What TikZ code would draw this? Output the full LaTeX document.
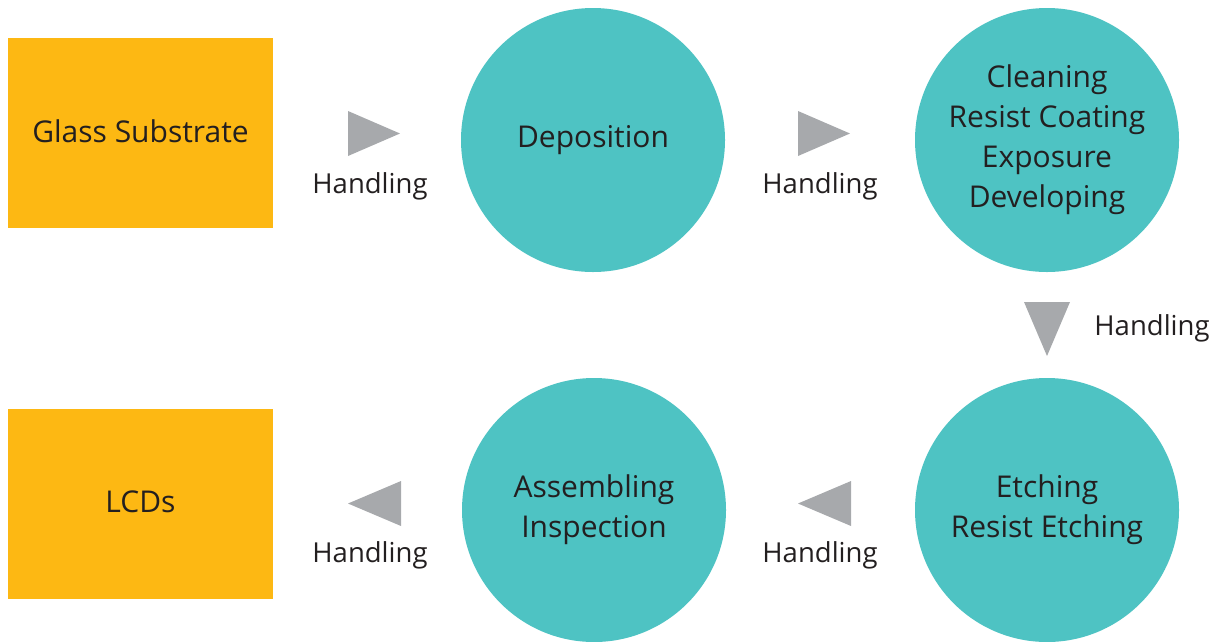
\documentclass[tikz,border=0pt]{standalone}
\usepackage{fontspec}
\setmainfont{Open Sans}
\definecolor{orangebox}{HTML}{FDB813}
\definecolor{tealc}{HTML}{4EC3C3}
\definecolor{grayarrow}{HTML}{A7A9AC}
\definecolor{txt}{HTML}{231F20}
\begin{document}
\begin{tikzpicture}[x=1pt,y=-1pt,
  box/.style={fill=orangebox,draw=none,minimum width=265pt,minimum height=190pt,inner sep=0pt,text=txt},
  boxtext/.style={text=txt,inner sep=0pt,font=\fontsize{30}{40}\selectfont},
  stage/.style={circle,fill=tealc,draw=none,minimum size=264pt,inner sep=0pt,align=center,text=txt,font=\fontsize{30}{40}\selectfont},
  lbl/.style={text=txt,font=\fontsize{27.5}{32}\selectfont,inner sep=0pt},
  tri/.style={fill=grayarrow,draw=none}]
\useasboundingbox (0,0) rectangle (1223,641);
\node[box] (glass) at (140.5,133) {};
\node[boxtext] (glasst) at (140.5,131) {Glass Substrate};
\node[box] (lcd) at (140.5,504) {};
\node[boxtext] (lcdt) at (140.5,502) {LCDs};
\node[stage] (dep) at (593,140) {Deposition};
\node[stage] (clean) at (1047,140) {Cleaning\\Resist Coating\\Exposure\\Developing};
\node[stage] (etch) at (1047,510) {Etching\\Resist Etching};
\node[stage] (asm) at (594,510) {Assembling\\Inspection};
% triangles
\fill[tri] (348,111) -- (348,156) -- (400,133.5) -- cycle;
\fill[tri] (798,111) -- (798,156) -- (850,133.5) -- cycle;
\fill[tri] (1024,302) -- (1070,302) -- (1047,356) -- cycle;
\fill[tri] (851,481) -- (851,526) -- (798,503.5) -- cycle;
\fill[tri] (401,481) -- (401,526) -- (348,503.5) -- cycle;
% labels
\node[lbl] (h1) at (370,186) {Handling};
\node[lbl] (h2) at (820,186) {Handling};
\node[lbl] (h3) at (1152,328) {Handling};
\node[lbl] (h4) at (820,555) {Handling};
\node[lbl] (h5) at (370,555) {Handling};
\end{tikzpicture}
\end{document}
